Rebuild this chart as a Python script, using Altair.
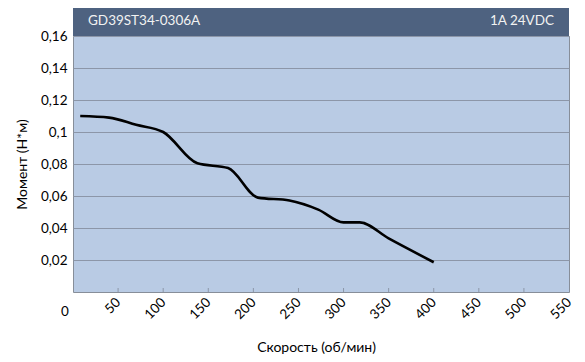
import altair as alt
import pandas as pd

# Data
speed = [8, 40, 70, 100, 138, 172, 205, 240, 272, 300, 318, 350, 400]
torque = [0.110, 0.109, 0.1045, 0.100, 0.0804, 0.0775, 0.059, 0.0572, 0.0515, 0.0435, 0.0435, 0.0335, 0.0186]
x_ticks = [50, 100, 150, 200, 250, 300, 350, 400, 450, 500, 550]
y_ticks = [0.02, 0.04, 0.06, 0.08, 0.10, 0.12, 0.14, 0.16]
header_left = "GD39ST34-0306A"
header_right = "1A 24VDC"
x_title = "Скорость (об/мин)"
y_title = "Момент (Н*м)"

W, H = 496, 256
FONT = "Lato"
HEADER = "#4E6280"
GRID = "#8C96A8"

df = pd.DataFrame({"speed": speed, "torque": torque})
xs = alt.Scale(domain=[0, 550], nice=False, zero=False)
ys = alt.Scale(domain=[0, 0.16], nice=False)

line = alt.Chart(df).mark_line(interpolate="monotone", color="black", strokeWidth=2.6).encode(
    x=alt.X("speed:Q", scale=xs, axis=alt.Axis(
        values=x_ticks, title=x_title, grid=False, domain=False, ticks=False,
        labelAngle=-45, labelAlign="right", labelBaseline="middle", labelPadding=8,
        labelFont=FONT, labelFontSize=13.5, labelColor="#000",
        titleFont=FONT, titleFontSize=14, titleFontWeight="normal", titleColor="#000",
        titleX=243, titleY=48, titleAnchor="middle")),
    y=alt.Y("torque:Q", scale=ys, axis=alt.Axis(
        values=y_ticks, title=y_title, grid=True, gridColor=GRID, gridWidth=1,
        domain=False, ticks=False,
        labelExpr="replace(format(datum.value, '~g'), '.', ',')",
        labelPadding=6, labelFont=FONT, labelFontSize=13.5, labelColor="#000",
        titleFont=FONT, titleFontSize=14, titleFontWeight="normal", titleColor="#000",
        titlePadding=11)),
)

tick_df = pd.DataFrame({"speed": x_ticks[:-1]})
ticks = alt.Chart(tick_df).mark_rule(color=GRID, strokeWidth=1).encode(
    x=alt.X("speed:Q", scale=xs),
    y=alt.value(H - 4), y2=alt.value(H),
)

zero_df = pd.DataFrame({"speed": [0], "label": ["0"]})
zero = alt.Chart(zero_df).mark_text(font=FONT, fontSize=13.5, color="#000", dx=-8, baseline="middle").encode(
    x=alt.X("speed:Q", scale=xs), y=alt.value(H + 20), text="label:N"
)

hdr = alt.Chart(pd.DataFrame({"a": [0]})).mark_rect(color=HEADER).encode(
    x=alt.value(0), x2=alt.value(W), y=alt.value(-28), y2=alt.value(0)
)
hl = alt.Chart(pd.DataFrame({"t": [header_left]})).mark_text(
    font=FONT, fontSize=13.5, color="#F2F2F2", align="left", baseline="middle"
).encode(x=alt.value(15), y=alt.value(-15), text="t:N")
hr = alt.Chart(pd.DataFrame({"t": [header_right]})).mark_text(
    font=FONT, fontSize=13.5, color="#F2F2F2", align="right", baseline="middle"
).encode(x=alt.value(W - 15), y=alt.value(-15), text="t:N")

chart = alt.layer(ticks, line, zero, hdr, hl, hr).properties(
    width=W, height=H,
    background="white",
    autosize=alt.AutoSizeParams(type="none"),
    padding={"left": 65, "top": 28, "right": 8, "bottom": 62},
).configure_view(fill="#B9CBE4", stroke="#878E99", strokeWidth=1)

chart.save("out.html", embed_options={"renderer": "svg", "actions": False})
